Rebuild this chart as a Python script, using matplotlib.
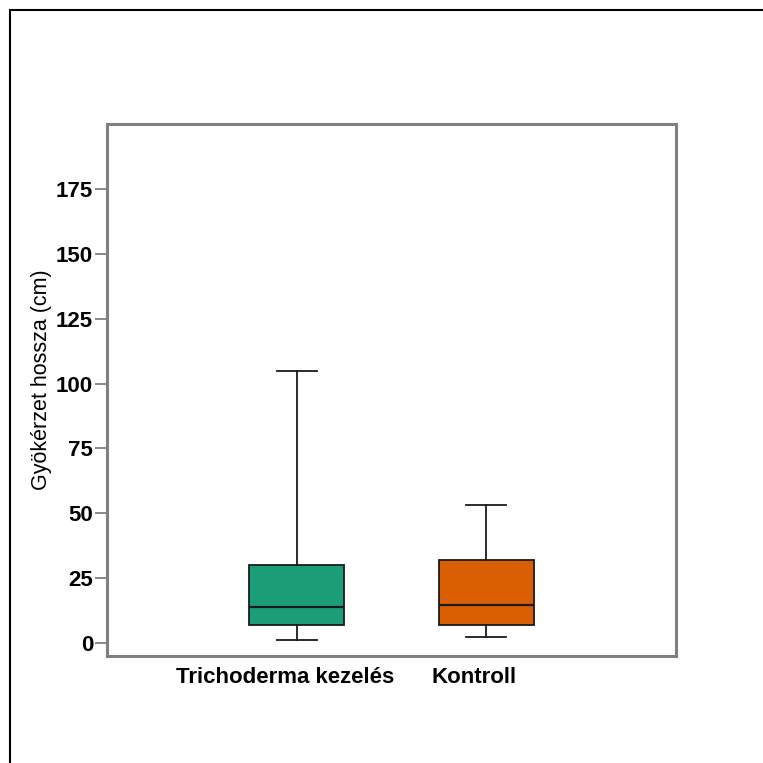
import matplotlib.pyplot as plt
from matplotlib.patches import Rectangle
from matplotlib.transforms import ScaledTranslation

# box statistics
groups = ["Trichoderma kezelés", "Kontroll"]
whisker_low = [1.2, 2.2]
q1 = [7.0, 7.0]
median = [13.8, 14.5]
q3 = [30.0, 31.9]
whisker_high = [105.0, 53.0]
colors = ["#1b9e77", "#d95f02"]
yticks = [0, 25, 50, 75, 100, 125, 150, 175]

plt.rcParams['font.family'] = ['Liberation Sans', 'DejaVu Sans']

fig = plt.figure(figsize=(7.63, 7.63), dpi=100)
ax = fig.add_axes([107 / 763, 1 - 656 / 763, (676 - 107) / 763, (656 - 124) / 763])

stats = []
for i, g in enumerate(groups):
    stats.append({
        "label": g, "whislo": whisker_low[i], "q1": q1[i], "med": median[i],
        "q3": q3[i], "whishi": whisker_high[i], "fliers": [],
    })

bp = ax.bxp(stats, positions=[1, 2], widths=0.5, patch_artist=True,
            showfliers=False,
            boxprops=dict(linewidth=1.3, edgecolor="#1a1a1a"),
            medianprops=dict(linewidth=1.6, color="#1a1a1a"),
            whiskerprops=dict(linewidth=1.3, color="#1a1a1a"),
            capprops=dict(linewidth=1.3, color="#1a1a1a"),
            capwidths=0.21)
for patch, c in zip(bp["boxes"], colors):
    patch.set_facecolor(c)

ax.set_xlim(0, 3)
ax.set_ylim(-5, 200)
ax.set_yticks(yticks)
ax.set_yticklabels([str(t) for t in yticks], fontsize=16, fontweight="bold")
ax.set_xticks([1, 2])
ax.set_xticklabels(groups, fontsize=16, fontweight="bold")
ax.tick_params(axis="x", length=0, pad=8)
ax.tick_params(axis="y", length=9, width=1.3, color="#808080", pad=1)

# labels sit a bit left of the boxes in the original
for lab in ax.get_xticklabels():
    lab.set_transform(lab.get_transform() + ScaledTranslation(-12 / 100, 0, fig.dpi_scale_trans))

ax.set_ylabel("Gyökérzet hossza (cm)", fontsize=15.5)
ax.yaxis.set_label_coords(-0.097, 0.52)

for s in ax.spines.values():
    s.set_color("#808080")
    s.set_linewidth(2.2)

# outer frame of the picture
fig.patches.append(Rectangle((10 / 763, -0.1), 1.2, 1 - 10 / 763 + 0.1,
                             transform=fig.transFigure, fill=False,
                             edgecolor="black", linewidth=1.5))

fig.savefig("out.png", dpi=100)
